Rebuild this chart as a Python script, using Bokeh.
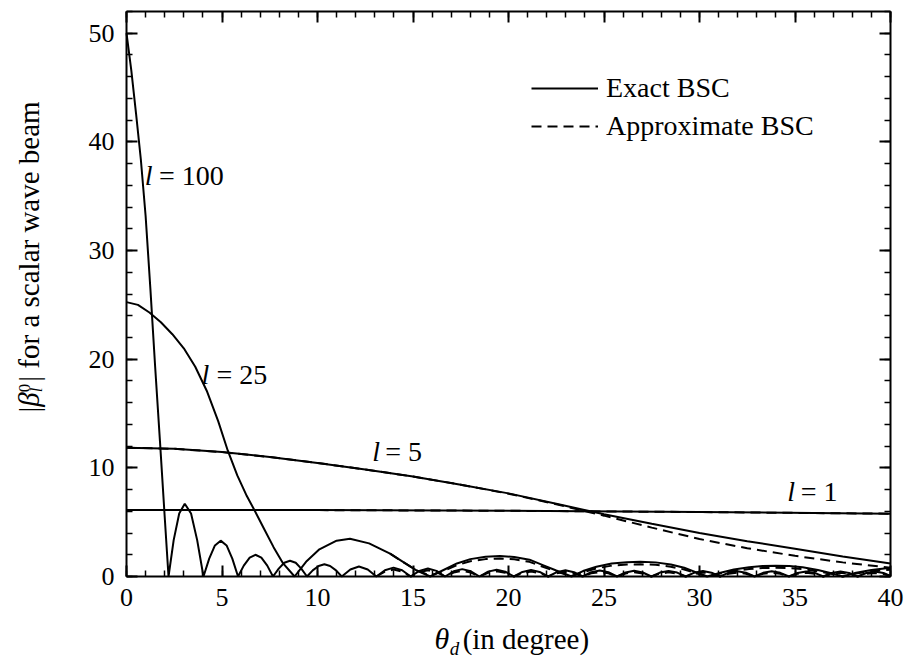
import math
from bokeh.plotting import figure
from bokeh.models import Range1d, LinearAxis, Label, Legend, LegendItem, SingleIntervalTicker
from bokeh.embed import file_html
from bokeh.resources import INLINE

FONT = "Liberation Serif"

# ---------------- data ----------------
# l = 1
x_l1 = [0, 10, 20, 30, 40]
y_l1_exact = [6.13, 6.11, 6.05, 5.93, 5.78]
y_l1_approx = [6.13, 6.11, 6.05, 5.93, 5.78]

# l = 5
x_l5 = [0, 2.5, 5, 7.5, 10, 12.5, 15, 17.5, 20, 22.5, 25, 27.5, 30, 32.5, 35, 37.5, 40]
y_l5_exact = [11.85, 11.75, 11.45, 11.0, 10.45, 9.85, 9.2, 8.45, 7.65, 6.7, 5.72, 4.85,
              4.0, 3.25, 2.55, 1.85, 1.2]
y_l5_approx = [11.85, 11.75, 11.45, 11.0, 10.45, 9.85, 9.2, 8.45, 7.62, 6.65, 5.6, 4.5,
               3.45, 2.6, 1.9, 1.3, 0.8]

# l = 25
x_l25 = [0, 0.6, 1.2, 1.8, 2.4, 3.0, 3.6, 4.2, 4.8, 5.3, 5.8, 6.3, 6.7, 7.2, 7.7, 8.2, 8.8,
         9.4, 10.1, 11.0, 11.7, 12.7, 13.8, 14.6, 15.2, 15.9,
         16.6, 17.3, 18.0, 18.8, 19.55, 20.3, 21.1, 21.8, 22.5, 23.3,
         23.9, 24.6, 25.4, 26.2, 26.9, 27.7, 28.5, 29.2, 29.8, 30.4,
         31.1, 31.8, 32.6, 33.3, 34.0, 34.7, 35.4, 36.2, 36.9, 37.5,
         38.2, 39.0, 40.0]
y_l25_exact = [25.25, 25.0, 24.3, 23.4, 22.3, 21.0, 19.3, 17.1, 14.3, 11.6, 9.3, 7.4, 6.1,
               4.4, 2.7, 1.2, 0.0,
               1.35, 2.5, 3.3, 3.47, 3.05, 2.1, 1.2, 0.55, 0.0,
               0.6, 1.2, 1.6, 1.82, 1.88, 1.8, 1.55, 1.05, 0.55, 0.0,
               0.5, 0.9, 1.2, 1.32, 1.35, 1.3, 1.1, 0.8, 0.4, 0.0,
               0.35, 0.65, 0.85, 0.97, 1.0, 0.97, 0.85, 0.6, 0.3, 0.0,
               0.35, 0.6, 0.8]
x_l25_approx = [13.8, 14.6, 15.2, 15.9, 16.6, 17.3, 18.0, 18.8, 19.55, 20.3, 21.1, 21.8,
                22.5, 23.3, 23.9, 24.6, 25.4, 26.2, 26.9, 27.7, 28.5, 29.2, 29.8, 30.4,
                31.1, 31.8, 32.6, 33.3, 34.0, 34.7, 35.4, 36.2, 36.9, 37.5, 38.2, 39.0, 40.0]
y_l25_approx = [2.1, 1.2, 0.55, 0.1, 0.5, 1.05, 1.4, 1.6, 1.65, 1.58, 1.35, 0.9,
                0.45, 0.05, 0.4, 0.75, 1.0, 1.1, 1.12, 1.08, 0.9, 0.65, 0.32, 0.0,
                0.28, 0.52, 0.68, 0.78, 0.8, 0.78, 0.68, 0.48, 0.25, 0.0, 0.28, 0.48, 0.62]

# l = 100
x_l100 = [0, 0.25, 0.5, 0.75, 1.0, 1.25, 1.5, 1.75, 2.0, 2.2,
          2.47, 2.76, 3.05, 3.38, 3.7, 4.03,
          4.33, 4.63, 4.93, 5.24, 5.54, 5.84,
          6.14, 6.45, 6.75, 7.06, 7.37, 7.67,
          7.97, 8.26, 8.56, 8.86, 9.15, 9.45,
          9.75, 10.06, 10.36, 10.66, 10.97, 11.27,
          11.72, 12.17, 12.63, 13.08,
          13.53, 13.98, 14.43, 14.88,
          15.33, 15.78, 16.23, 16.68,
          17.13, 17.58, 18.03, 18.48,
          18.93, 19.38, 19.83, 20.28,
          20.73, 21.18, 21.63, 22.08,
          22.53, 22.98, 23.43, 23.88,
          24.33, 24.78, 25.23, 25.68,
          26.13, 26.58, 27.03, 27.48,
          27.93, 28.38, 28.83, 29.28,
          29.73, 30.18, 30.63, 31.08,
          31.53, 31.98, 32.43, 32.88,
          33.33, 33.78, 34.23, 34.68,
          35.13, 35.58, 36.03, 36.48,
          36.93, 37.38, 37.83, 38.28,
          38.73, 39.18, 39.63, 40.0]
y_l100_exact = [50.0, 46.6, 42.6, 38.4, 33.2, 26.5, 19.3, 12.5, 5.5, 0.0,
                3.35, 5.8, 6.7, 5.8, 3.35, 0.0,
                1.65, 2.86, 3.3, 2.86, 1.65, 0.0,
                1.0, 1.73, 2.0, 1.73, 1.0, 0.0,
                0.72, 1.26, 1.45, 1.26, 0.72, 0.0,
                0.56, 0.97, 1.12, 0.97, 0.56, 0.0,
                0.65, 0.92, 0.65, 0.0,
                0.58, 0.82, 0.58, 0.0,
                0.52, 0.74, 0.52, 0.0,
                0.48, 0.68, 0.48, 0.0,
                0.45, 0.63, 0.45, 0.0,
                0.42, 0.6, 0.42, 0.0,
                0.4, 0.57, 0.4, 0.0,
                0.39, 0.55, 0.39, 0.0,
                0.37, 0.53, 0.37, 0.0,
                0.36, 0.51, 0.36, 0.0,
                0.35, 0.5, 0.35, 0.0,
                0.35, 0.49, 0.35, 0.0,
                0.34, 0.48, 0.34, 0.0,
                0.33, 0.47, 0.33, 0.0,
                0.33, 0.46, 0.33, 0.0,
                0.32, 0.45, 0.32, 0.05]
x_l100_approx = [13.08, 13.53, 13.98, 14.43, 14.88, 15.33, 15.78, 16.23, 16.68,
                 17.13, 17.58, 18.03, 18.48, 18.93, 19.38, 19.83, 20.28,
                 20.73, 21.18, 21.63, 22.08, 22.53, 22.98, 23.43, 23.88,
                 24.33, 24.78, 25.23, 25.68, 26.13, 26.58, 27.03, 27.48,
                 27.93, 28.38, 28.83, 29.28, 29.73, 30.18, 30.63, 31.08,
                 31.53, 31.98, 32.43, 32.88, 33.33, 33.78, 34.23, 34.68,
                 35.13, 35.58, 36.03, 36.48, 36.93, 37.38, 37.83, 38.28,
                 38.73, 39.18, 39.63, 40.0]
y_l100_approx = [0.0, 0.45, 0.64, 0.45, 0.0, 0.4, 0.57, 0.4, 0.0,
                 0.36, 0.52, 0.36, 0.0, 0.34, 0.48, 0.34, 0.0,
                 0.32, 0.45, 0.32, 0.0, 0.3, 0.43, 0.3, 0.0,
                 0.29, 0.41, 0.29, 0.0, 0.28, 0.4, 0.28, 0.0,
                 0.27, 0.38, 0.27, 0.0, 0.26, 0.37, 0.26, 0.0,
                 0.26, 0.36, 0.26, 0.0, 0.25, 0.35, 0.25, 0.0,
                 0.25, 0.34, 0.25, 0.0, 0.24, 0.34, 0.24, 0.0,
                 0.24, 0.33, 0.24, 0.05]

# axis extents
X_MIN, X_MAX = 0, 40
Y_MIN, Y_MAX = 0, 52

# ---------------- figure ----------------
# the frame fills the whole canvas; the visible box is drawn by four axes
# fixed at the data limits, so that the axis titles are inside the frame
PX_PER_X = 764 / 40.0
PX_PER_Y = 565 / 52.0
p = figure(width=909, height=665,
           x_range=Range1d(-126 / PX_PER_X, 40 + 19 / PX_PER_X),
           y_range=Range1d(-89 / PX_PER_Y, 52 + 11 / PX_PER_Y),
           output_backend="svg", toolbar_location=None,
           min_border=0, min_border_left=0, min_border_right=0,
           min_border_top=0, min_border_bottom=0)
p.xgrid.visible = False
p.ygrid.visible = False
p.outline_line_color = None
p.background_fill_color = "white"
p.border_fill_color = "white"

xtick = SingleIntervalTicker(interval=5, num_minor_ticks=5)
ytick = SingleIntervalTicker(interval=10, num_minor_ticks=5)


def style_axis(ax, show_labels=True):
    ax.major_tick_in = 11
    ax.major_tick_out = 0
    ax.minor_tick_in = 6
    ax.minor_tick_out = 0
    ax.major_tick_line_width = 2
    ax.minor_tick_line_width = 1.5
    ax.major_tick_line_color = "black"
    ax.minor_tick_line_color = "black"
    ax.axis_line_width = 2
    ax.axis_line_color = "black"
    ax.major_label_text_font = FONT
    ax.major_label_text_font_size = "26px"
    if show_labels:
        ax.major_label_text_color = "black"
        ax.major_label_standoff = 12
    else:
        ax.major_label_text_color = None
        ax.major_label_standoff = 0


bx = p.xaxis[0]
by = p.yaxis[0]
bx.ticker = xtick
by.ticker = ytick
style_axis(bx)
style_axis(by)
bx.fixed_location = Y_MIN
by.fixed_location = X_MIN
bx.bounds = (X_MIN, X_MAX)
by.bounds = (Y_MIN, Y_MAX)

top_axis = LinearAxis(ticker=xtick, fixed_location=Y_MAX, bounds=(X_MIN, X_MAX))
style_axis(top_axis, False)
p.add_layout(top_axis, "above")
right_axis = LinearAxis(ticker=ytick, fixed_location=X_MAX, bounds=(Y_MIN, Y_MAX))
style_axis(right_axis, False)
p.add_layout(right_axis, "right")

LW = 2
DASH = "10 6"
r1 = p.line(x_l1, y_l1_exact, line_color="black", line_width=LW)
r5 = p.line(x_l5, y_l5_exact, line_color="black", line_width=LW)
r25 = p.line(x_l25, y_l25_exact, line_color="black", line_width=LW)
r100 = p.line(x_l100, y_l100_exact, line_color="black", line_width=LW)
a100 = p.line(x_l100_approx, y_l100_approx, line_color="black", line_width=LW, line_dash=DASH)
a25 = p.line(x_l25_approx, y_l25_approx, line_color="black", line_width=LW, line_dash=DASH)
a1 = p.line(x_l1, y_l1_approx, line_color="black", line_width=LW, line_dash=DASH)
a5 = p.line(x_l5, y_l5_approx, line_color="black", line_width=LW, line_dash=DASH)

legend = Legend(items=[LegendItem(label="Exact BSC", renderers=[r5]),
                       LegendItem(label="Approximate BSC", renderers=[a5])],
                location=(405 + 126, 434 + 89), glyph_width=67, glyph_height=20,
                label_standoff=8, padding=0, margin=0, spacing=6, border_line_color=None,
                background_fill_alpha=0, label_text_font=FONT, label_text_font_size="28px",
                label_text_color="black")
p.add_layout(legend)


def lab(x, y, text, size=28, style="normal", angle=0.0):
    """x, y: start of the text's baseline (data units)."""
    shift = 0.335 * size  # baseline -> middle of the em box, in px
    if angle == 0.0:
        y = y + shift / PX_PER_Y
    else:
        x = x - shift / PX_PER_X
    p.add_layout(Label(x=x, y=y, text=text, text_font=FONT, text_font_size=f"{size}px",
                       text_font_style=style, angle=angle, text_align="left",
                       text_baseline="middle", text_color="black"))


# curve labels
lab(0.95, 36.0, "l", style="italic")
lab(1.7, 36.0, "= 100")
lab(3.93, 17.74, "l", style="italic")
lab(4.71, 17.74, "= 25")
lab(12.86, 10.68, "l", style="italic")
lab(13.55, 10.68, "= 5")
lab(34.6, 7.0, "l", style="italic")
lab(35.3, 7.0, "= 1")

# x axis title
lab(16.13, -6.67, "θ", size=30, style="italic")
lab(16.93, -7.2, "d", size=19, style="italic")
lab(17.6, -6.67, "(in degree)", size=29)

# y axis title (rotated)
A = math.pi / 2
YB = -4.58
lab(YB, 15.09, "|", size=29, angle=A)
lab(YB, 15.63, "β", size=29, style="italic", angle=A)
lab(YB - 0.47, 16.96, "0", size=17, angle=A)
lab(YB + 0.19, 16.96, "l", size=17, style="italic", angle=A)
lab(YB, 17.93, "|", size=29, angle=A)
lab(YB, 19.13, "for a scalar wave beam", size=29, angle=A)

open("out.html", "w").write(file_html(p, INLINE))
